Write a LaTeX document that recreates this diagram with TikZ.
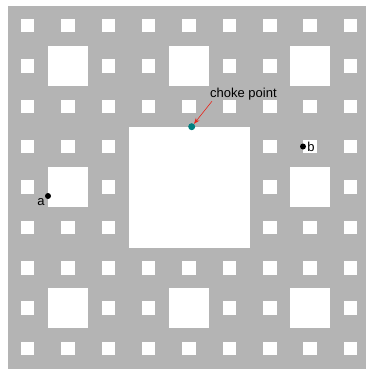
\documentclass[tikz,border=0pt]{standalone}
\usepackage{fontspec}
\setmainfont{Liberation Sans}
\usetikzlibrary{positioning, arrows.meta}
\definecolor{carpetgray}{RGB}{180,180,180}
\definecolor{choketeal}{RGB}{0,128,128}
\definecolor{arrowred}{RGB}{230,40,30}

\begin{document}
\begin{tikzpicture}[
    x=1pt, y=-1pt,
    hole/.style={fill=white},
    pt/.style={circle, fill=black, inner sep=0pt, minimum size=6pt},
    lbl/.style={font=\fontsize{13}{15}\selectfont, inner sep=1pt},
    pointer/.style={-{Stealth[length=6pt, width=4.5pt]}, arrowred, line width=0.6pt}
]
\useasboundingbox (0,0) rectangle (366,370);
\clip (0,0) rectangle (366,370);

\def\cs{13.45}
% carpet
\fill[carpetgray] (7.5,5.5) rectangle ++(27*\cs,27*\cs);
\fill[hole] ({7.5+9*\cs},{5.5+9*\cs}) rectangle ++(9*\cs,9*\cs);
\foreach \i in {0,1,2}
  \foreach \j in {0,1,2}
    \fill[hole] ({7.5+(9*\i+3)*\cs},{5.5+(9*\j+3)*\cs}) rectangle ++(3*\cs,3*\cs);
\foreach \i in {0,...,8}
  \foreach \j in {0,...,8}
    \fill[hole] ({7.5+(3*\i+1)*\cs},{5.5+(3*\j+1)*\cs}) rectangle ++(\cs,\cs);

% points
\node[pt] (a) at (48,196) {};
\node[lbl, anchor=north east, yshift=1pt] (alabel) at (a.south west) {a};
\node[pt] (b) at (303,146.5) {};
\node[lbl, right=0pt of b] (blabel) {b};

\node[pt, fill=choketeal, minimum size=7pt] (choke) at (191.7,126.7) {};
\node[lbl, anchor=base west] (chokelabel) at (209,97.3) {choke point};
\draw[pointer] ([xshift=3pt]chokelabel.south west) -- (choke);

\end{tikzpicture}
\end{document}
